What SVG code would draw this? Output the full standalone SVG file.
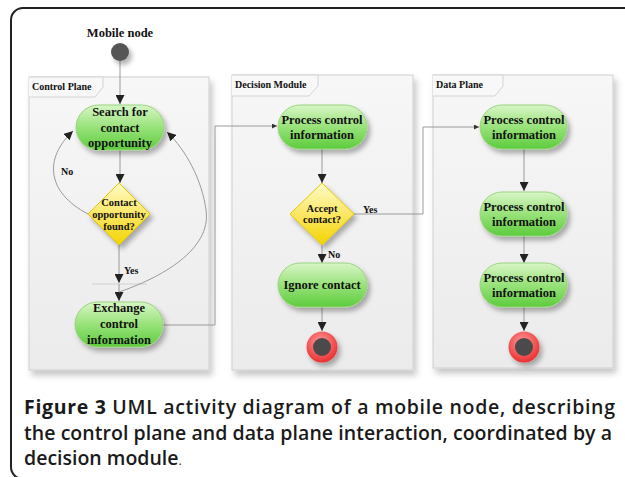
<svg xmlns="http://www.w3.org/2000/svg" width="625" height="477" viewBox="0 0 625 477">
<defs>
<linearGradient id="gPill" x1="0" y1="0" x2="0" y2="1">
<stop offset="0" stop-color="#d8f6c6"/>
<stop offset="0.5" stop-color="#98e27a"/>
<stop offset="1" stop-color="#5dcc3d"/>
</linearGradient>
<linearGradient id="gDia" x1="0" y1="0" x2="0" y2="1">
<stop offset="0" stop-color="#fffbc8"/>
<stop offset="0.5" stop-color="#fbe766"/>
<stop offset="1" stop-color="#f3d400"/>
</linearGradient>
<linearGradient id="gLane" x1="0" y1="0" x2="0" y2="1">
<stop offset="0" stop-color="#f7f7f7"/>
<stop offset="1" stop-color="#ebebeb"/>
</linearGradient>
<radialGradient id="gEnd" cx="0.45" cy="0.35" r="0.7">
<stop offset="0" stop-color="#ff9a9a"/>
<stop offset="1" stop-color="#e82828"/>
</radialGradient>
<filter id="sh" x="-30%" y="-30%" width="170%" height="170%">
<feDropShadow dx="3" dy="4" stdDeviation="2.5" flood-color="#000" flood-opacity="0.3"/>
</filter>
<filter id="shL" x="-10%" y="-10%" width="125%" height="125%">
<feDropShadow dx="3" dy="5" stdDeviation="3" flood-color="#000" flood-opacity="0.22"/>
</filter>
<marker id="ah" markerWidth="9" markerHeight="9" refX="9" refY="4.5" orient="auto" markerUnits="userSpaceOnUse">
<path d="M0,0 L9,4.5 L0,9 z" fill="#222"/>
</marker>
<marker id="ahs" markerWidth="5" markerHeight="5" refX="5" refY="2.5" orient="auto" markerUnits="userSpaceOnUse">
<path d="M0,0 L5,2.5 L0,5 z" fill="#333"/>
</marker>
</defs>
<style>
.lane{fill:url(#gLane);stroke:#cfcfcf;stroke-width:1;filter:url(#shL)}
.tab{fill:#f8f8f8;stroke:#d4d4d4;stroke-width:1}
.lbl{font-family:"Liberation Serif",serif;font-weight:bold;fill:#111}
.lt{font-size:10px}
.nt{font-size:12.5px;text-anchor:middle}
.dt{font-size:10.5px;text-anchor:middle}
.pill{fill:url(#gPill);stroke:#9ad47e;stroke-width:1;filter:url(#sh)}
.dia{fill:url(#gDia);stroke:#e6c800;stroke-width:1;filter:url(#sh)}
.con{fill:none;stroke:#9a9a9a;stroke-width:1}
.cap{font-family:"Open Sans","Liberation Sans",sans-serif;font-size:19.5px;fill:#1a1a1a;font-weight:600}
</style>
<rect x="0" y="0" width="625" height="477" fill="#fff"/>
<rect x="11" y="8" width="640" height="471" rx="12" ry="12" fill="none" stroke="#222" stroke-width="2"/>

<g id="lane-control">
<rect class="lane" x="29" y="77" width="180" height="293"/>
<path class="tab" d="M29,77 L103,77 L103,87 L95,97 L29,97"/>
<text class="lbl lt" x="32" y="90">Control Plane</text>
</g>
<g id="lane-decision">
<rect class="lane" x="232" y="75" width="181" height="295"/>
<path class="tab" d="M232,75 L318,75 L318,86 L309,96 L232,96"/>
<text class="lbl lt" x="235" y="88">Decision Module</text>
</g>
<g id="lane-data">
<rect class="lane" x="433" y="75" width="180" height="293"/>
<path class="tab" d="M433,75 L503,75 L503,86 L495,96 L433,96"/>
<text class="lbl lt" x="436" y="88">Data Plane</text>
</g>

<g id="connectors">
<path class="con" d="M120,61 L120,104" marker-end="url(#ah)"/>
<path class="con" d="M120,150 L120,183" marker-end="url(#ah)"/>
<path class="con" d="M119,245 L119,283" marker-end="url(#ah)"/>
<line x1="92" y1="284" x2="147" y2="284" stroke="#d0d0d0" stroke-width="1"/>
<path class="con" d="M119,284 L119,301" marker-end="url(#ah)"/>
<path class="con" d="M88,214 C 46,192 44,158 73,131" marker-end="url(#ah)"/>
<path class="con" d="M119,292 C 160,278 212,250 206,210 C 202,180 186,150 167,132" marker-end="url(#ah)"/>
<path class="con" d="M163,325 L215,325 L215,126 L277,126" marker-end="url(#ahs)"/>
<path class="con" d="M322,149 L322,183" marker-end="url(#ah)"/>
<path class="con" d="M354,214 L423,214 L423,127 L479,127" marker-end="url(#ahs)"/>
<path class="con" d="M322,245 L322,263" marker-end="url(#ah)"/>
<path class="con" d="M322,307 L322,331" marker-end="url(#ah)"/>
<path class="con" d="M524,149 L524,191" marker-end="url(#ah)"/>
<path class="con" d="M524,236 L524,263" marker-end="url(#ah)"/>
<path class="con" d="M524,307 L524,331" marker-end="url(#ah)"/>
<text class="lbl lt" x="61" y="175">No</text>
<text class="lbl lt" x="124" y="274">Yes</text>
<text class="lbl lt" x="363" y="213">Yes</text>
<text class="lbl lt" x="328" y="258">No</text>
</g>

<g id="start">
<text class="lbl nt" x="120" y="37">Mobile node</text>
<circle cx="120" cy="52" r="9" fill="#555" filter="url(#sh)"/>
</g>

<g id="search">
<rect class="pill" x="76" y="105" width="88" height="45" rx="22.5"/>
<text class="lbl nt" x="120" y="116">Search for</text>
<text class="lbl nt" x="120" y="132">contact</text>
<text class="lbl nt" x="120" y="147">opportunity</text>
</g>

<g id="found">
<polygon class="dia" points="119,183 150,214 119,245 88,214"/>
<text class="lbl dt" x="119" y="206">Contact</text>
<text class="lbl dt" x="119" y="218">opportunity</text>
<text class="lbl dt" x="119" y="230">found?</text>
</g>

<g id="exchange">
<rect class="pill" x="75" y="302" width="88" height="45" rx="22.5"/>
<text class="lbl nt" x="119" y="312">Exchange</text>
<text class="lbl nt" x="119" y="328">control</text>
<text class="lbl nt" x="119" y="344">information</text>
</g>

<g id="dm-process">
<rect class="pill" x="278" y="105" width="89" height="44" rx="22"/>
<text class="lbl nt" x="322" y="124">Process control</text>
<text class="lbl nt" x="322" y="139">information</text>
</g>

<g id="accept">
<polygon class="dia" points="322,183 354,214 322,245 290,214"/>
<text class="lbl dt" x="322" y="212">Accept</text>
<text class="lbl dt" x="322" y="223">contact?</text>
</g>

<g id="ignore">
<rect class="pill" x="278" y="263" width="89" height="44" rx="22"/>
<text class="lbl nt" x="322" y="289">Ignore contact</text>
</g>

<g id="dm-end">
<circle cx="322" cy="347" r="15.5" fill="url(#gEnd)" filter="url(#sh)"/>
<circle cx="322" cy="347" r="9" fill="#4a4a4a"/>
</g>

<g id="dp-process1">
<rect class="pill" x="480" y="105" width="87" height="44" rx="22"/>
<text class="lbl nt" x="524" y="124">Process control</text>
<text class="lbl nt" x="524" y="139">information</text>
</g>
<g id="dp-process2">
<rect class="pill" x="480" y="192" width="87" height="44" rx="22"/>
<text class="lbl nt" x="524" y="211">Process control</text>
<text class="lbl nt" x="524" y="226">information</text>
</g>
<g id="dp-process3">
<rect class="pill" x="480" y="263" width="87" height="44" rx="22"/>
<text class="lbl nt" x="524" y="282">Process control</text>
<text class="lbl nt" x="524" y="297">information</text>
</g>
<g id="dp-end">
<circle cx="524" cy="347" r="15.5" fill="url(#gEnd)" filter="url(#sh)"/>
<circle cx="524" cy="347" r="9" fill="#4a4a4a"/>
</g>

<g id="caption">
<text class="cap" x="24" y="414" textLength="591" lengthAdjust="spacing"><tspan font-weight="700">Figure 3</tspan> UML activity diagram of a mobile node, describing</text>
<text class="cap" x="24" y="440" textLength="588" lengthAdjust="spacing">the control plane and data plane interaction, coordinated by a</text>
<text class="cap" x="24" y="465">decision module<tspan font-size="12" font-weight="400">.</tspan></text>
</g>
</svg>
